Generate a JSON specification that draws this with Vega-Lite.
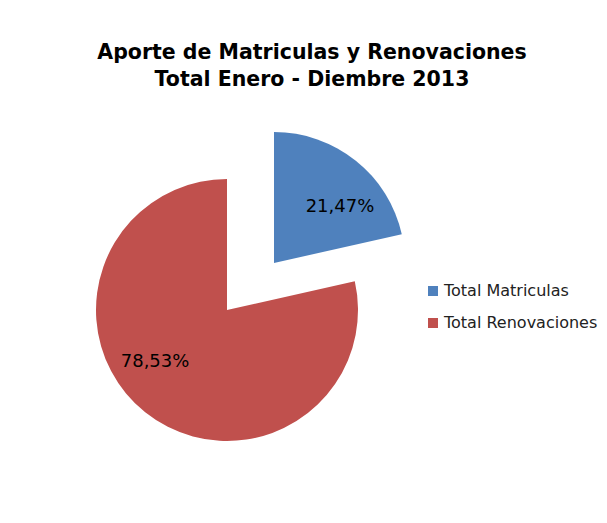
{
  "$schema": "https://vega.github.io/schema/vega-lite/v6.json",
  "autosize": "none",
  "width": 260,
  "height": 260,
  "padding": {"left": 97, "top": 180, "right": 250, "bottom": 83},
  "background": "white",
  "config": {"view": {"stroke": null}, "font": "DejaVu Sans"},
  "title": {
    "text": ["Aporte de Matriculas y Renovaciones", "Total Enero - Diembre 2013"],
    "font": "DejaVu Sans",
    "fontSize": 20.5,
    "fontWeight": "bold",
    "color": "#000000",
    "lineHeight": 27,
    "anchor": "middle",
    "frame": "group",
    "dx": 85,
    "offset": 42
  },
  "data": {
    "values": [
      {"category": "Total Matriculas", "value": 21.47, "label": "21,47%"},
      {"category": "Total Renovaciones", "value": 78.53, "label": "78,53%"}
    ]
  },
  "encoding": {
    "theta": {"field": "value", "type": "quantitative", "stack": true},
    "order": {"field": "category", "type": "nominal"},
    "color": {
      "field": "category",
      "type": "nominal",
      "scale": {"domain": ["Total Matriculas", "Total Renovaciones"], "range": ["#4F81BD", "#C0504D"]},
      "legend": {
        "title": null,
        "orient": "none",
        "legendX": 328,
        "legendY": 103,
        "symbolType": "square",
        "symbolSize": 100,
        "symbolStrokeWidth": 0,
        "labelFont": "DejaVu Sans",
        "labelFontSize": 16,
        "labelColor": "#222222",
        "rowPadding": 16,
        "labelOffset": 3
      }
    }
  },
  "layer": [
    {
      "mark": {"type": "arc", "outerRadius": 131},
      "encoding": {
        "fillOpacity": {"condition": {"test": "datum.category === 'Total Matriculas'", "value": 0}, "value": 1}
      }
    },
    {
      "mark": {"type": "arc", "outerRadius": 131, "xOffset": 47, "yOffset": -47},
      "encoding": {
        "fillOpacity": {"condition": {"test": "datum.category === 'Total Matriculas'", "value": 1}, "value": 0}
      }
    },
    {
      "mark": {"type": "text", "radius": 88, "font": "DejaVu Sans", "fontSize": 18, "color": "#000000", "dx": -17, "dy": -17},
      "encoding": {
        "text": {"field": "label"},
        "color": {"value": "#000000"},
        "opacity": {"condition": {"test": "datum.category === 'Total Renovaciones'", "value": 1}, "value": 0}
      }
    },
    {
      "mark": {"type": "text", "radius": 88, "font": "DejaVu Sans", "fontSize": 18, "color": "#000000", "xOffset": 47, "yOffset": -47, "dx": 11, "dy": 13},
      "encoding": {
        "text": {"field": "label"},
        "color": {"value": "#000000"},
        "opacity": {"condition": {"test": "datum.category === 'Total Matriculas'", "value": 1}, "value": 0}
      }
    }
  ]
}
